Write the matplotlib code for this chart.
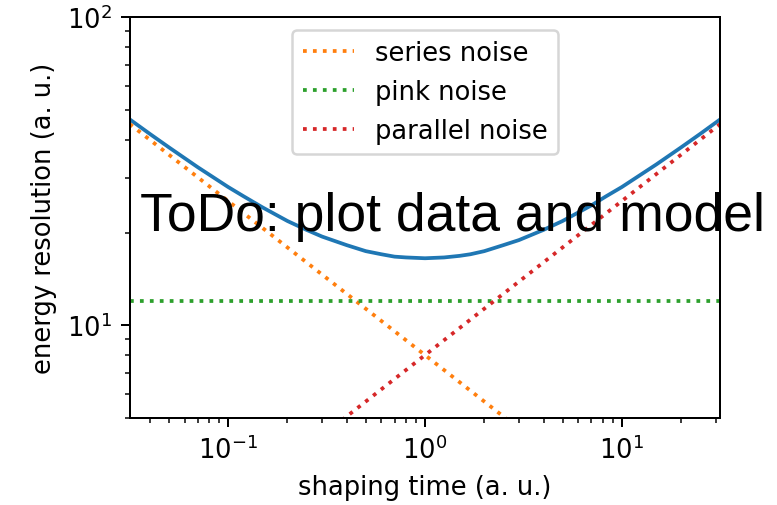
import matplotlib
matplotlib.use("Agg")
import matplotlib.pyplot as plt

# shaping time grid (a. u.) and values
shaping_time = [0.0316, 0.04, 0.05, 0.07, 0.1, 0.12, 0.15, 0.2, 0.25, 0.3, 0.4,
                0.5, 0.6, 0.7, 0.8, 1.0, 1.25, 1.5, 1.7, 2.0, 2.5, 3.0, 4.0,
                5.0, 7.0, 8.3, 10.0, 15.0, 20.0, 25.0, 31.6]
total_resolution = [46.6, 41.8, 37.8, 32.6, 28.1, 26.2, 24.1, 21.8, 20.4, 19.4, 18.2,
                    17.4, 17.0, 16.7, 16.6, 16.5, 16.6, 16.8, 17.0, 17.4, 18.2, 18.9, 20.4,
                    21.8, 24.5, 26.2, 28.1, 33.3, 37.8, 41.8, 46.6]

noise_time = [0.0316, 1.0, 31.6]
series_noise = [45.0, 8.0, 1.42]
pink_noise = [12.0, 12.0, 12.0]
parallel_noise = [1.42, 8.0, 45.0]

plt.rcParams["font.size"] = 10.3

fig = plt.figure(figsize=(777 / 180, 506 / 180), dpi=180)
ax = fig.add_axes([0.167, 0.172, 0.760, 0.792])

ax.plot(shaping_time, total_resolution, color="C0")
ax.plot(noise_time, series_noise, ":", color="C1", label="series noise")
ax.plot(noise_time, pink_noise, ":", color="C2", label="pink noise")
ax.plot(noise_time, parallel_noise, ":", color="C3", label="parallel noise")

ax.set_xscale("log")
ax.set_yscale("log")
ax.set_xlim(10 ** -1.5, 10 ** 1.5)
ax.set_ylim(5, 100)
ax.set_xlabel("shaping time (a. u.)")
ax.set_ylabel("energy resolution (a. u.)")
ax.legend(loc="upper center")

ax.text(0.0358, 20.4, "ToDo: plot data and model", fontsize=21.4,
        family="Liberation Sans", clip_on=False)

fig.savefig("out.png", dpi=180)
